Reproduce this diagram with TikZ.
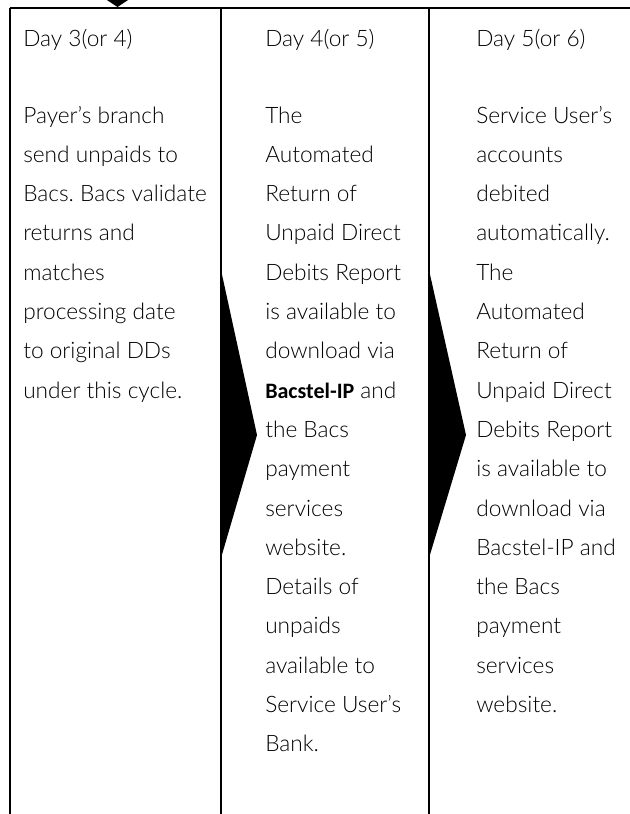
\documentclass[tikz,border=0pt]{standalone}
\usepackage{fontspec}
\setmainfont{Lato Light}
\newfontfamily\bacsbold{Carlito}
\frenchspacing
\begin{document}
\begin{tikzpicture}[x=0.75pt,y=-0.75pt]
\tikzset{
  rule/.style={line width=1.5pt, draw=black},
  toprule/.style={line width=1.9pt, draw=black},
  pointer/.style={fill=black, draw=none},
  txt/.style={anchor=base west, inner sep=0pt, font=\fontsize{17}{20}\selectfont},
}
\useasboundingbox (0,0) rectangle (630,814);
% frame
\draw[toprule] (9.5,8) -- (630,8);
\draw[rule] (9.5,8) -- (9.5,814);
\draw[rule] (221,8) -- (221,814);
\draw[rule] (429,8) -- (429,814);
% pointers
\fill[pointer] (107,0) -- (128,0) -- (117.5,7) -- cycle;
\fill[pointer] (221,270) -- (257,435) -- (221,558) -- cycle;
\fill[pointer] (429,270) -- (466,435) -- (429,558) -- cycle;
% headers
\node[txt] (h1) at (23,46) {Day 3(or 4)};
\node[txt] (h2) at (265,46) {Day 4(or 5)};
\node[txt] (h3) at (476,46) {Day 5(or 6)};
% column 1
\foreach \t [count=\i] in {Payer’s branch, send unpaids to, Bacs. Bacs validate, returns and, matches, processing date, to original DDs, under this cycle.}
  \node[txt] (a\i) at (23,{123+39.3*(\i-1)}) {\t};
% column 2
\foreach \t [count=\i] in {The, Automated, Return of, Unpaid Direct, Debits Report, is available to, download via, {{\bacsbold\bfseries\fontsize{16.5}{20}\selectfont Bacstel-IP} and}, the Bacs, payment, services, website., Details of, unpaids, available to, Service User’s, Bank.}
  \node[txt] (b\i) at (265,{123+39.3*(\i-1)}) {\t};
% column 3
\foreach \t [count=\i] in {Service User’s, accounts, debited, automatically., The, Automated, Return of, Unpaid Direct, Debits Report, is available to, download via, Bacstel-IP and, the Bacs, payment, services, website.}
  \node[txt] (c\i) at (476,{123+39.3*(\i-1)}) {\t};
\end{tikzpicture}
\end{document}
